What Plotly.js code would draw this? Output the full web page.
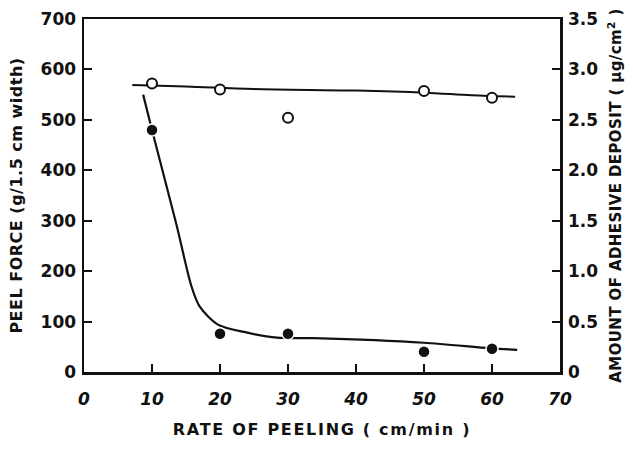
<!DOCTYPE html>
<html><head><meta charset="utf-8">
<script src="https://cdn.plot.ly/plotly-3.0.1.min.js"></script>
<style>
html,body{margin:0;padding:0;background:#fff}#c{width:633px;height:450px}
#c .xtitle{letter-spacing:1.7px}
#c .ytitle{letter-spacing:0.5px}
#c .y2title{letter-spacing:0.4px}
</style>
</head><body><div id="c"></div>
<script>
// Measured data
const rate = [10, 20, 30, 50, 60];
const peelForce = [572, 560, 504, 557, 544];          // open circles, left axis (g/1.5 cm width)
const deposit = [2.40, 0.38, 0.38, 0.20, 0.23];       // filled circles, right axis (µg/cm²)
// Hand-drawn fitted curves
const peelCurveX = [7.1, 15, 25, 40, 50, 57, 63.4];
const peelCurveY = [569, 566, 561, 558, 554, 549, 546];
const depCurveX = [8.7, 10, 13.6, 15.8, 17, 19.7, 24, 28.4, 33.7, 50, 59.7, 63.7];
const depCurveY = [2.75, 2.40, 1.46, 0.85, 0.65, 0.47, 0.39, 0.34, 0.335, 0.29, 0.235, 0.22];
const leftTicks = [0, 100, 200, 300, 400, 500, 600, 700];
const rightTicks = [0, 0.5, 1.0, 1.5, 2.0, 2.5, 3.0, 3.5];
const rightTickText = ["0", "0.5", "1.0", "1.5", "2.0", "2.5", "3.0", "3.5"];
const xTicks = [0, 10, 20, 30, 40, 50, 60, 70];

const F = "DejaVu Sans, Liberation Sans, sans-serif";
const traces = [
  {x: peelCurveX, y: peelCurveY, mode: "lines", line: {color: "#111", width: 2, shape: "spline", smoothing: 1}, yaxis: "y", hoverinfo: "skip"},
  {x: depCurveX, y: depCurveY, mode: "lines", line: {color: "#111", width: 2.2, shape: "spline", smoothing: 0.8}, yaxis: "y2", hoverinfo: "skip"},
  {x: rate, y: peelForce, mode: "markers", yaxis: "y",
   marker: {symbol: "circle", size: 10, color: "#fff", line: {color: "#111", width: 2}}},
  {x: rate, y: deposit, mode: "markers", yaxis: "y2",
   marker: {symbol: "circle", size: 12, color: "#111", line: {color: "#fff", width: 1.5}}}
];
const layout = {
  width: 633, height: 450, showlegend: false,
  paper_bgcolor: "#fff", plot_bgcolor: "#fff",
  margin: {l: 84, r: 73, t: 19, b: 78},
  font: {family: F, color: "#111"},
  xaxis: {range: [0, 70], tickvals: xTicks, ticks: "inside", ticklen: 8, tickwidth: 2, tickcolor: "#111",
    showline: true, linewidth: 2.5, linecolor: "#111", mirror: true, showgrid: false, zeroline: false,
    ticklabelstandoff: 10,
    tickfont: {family: F, size: 17, color: "#111", weight: "bold", style: "italic"},
    title: {text: "RATE OF PEELING ( cm/min )", standoff: 16, font: {family: F, size: 16, color: "#111", weight: "bold"}}},
  yaxis: {range: [0, 700], tickvals: leftTicks, ticks: "inside", ticklen: 8, tickwidth: 2, tickcolor: "#111",
    showline: true, linewidth: 2.5, linecolor: "#111", showgrid: false, zeroline: false,
    ticklabelstandoff: 2,
    tickfont: {family: F, size: 17, color: "#111", weight: "bold"},
    title: {text: "PEEL FORCE (g/1.5 cm width)", standoff: 14, font: {family: F, size: 16, color: "#111", weight: "bold"}}},
  yaxis2: {range: [0, 3.5], overlaying: "y", side: "right", tickvals: rightTicks, ticktext: rightTickText,
    ticks: "inside", ticklen: 8, tickwidth: 2, tickcolor: "#111",
    showline: true, linewidth: 2.5, linecolor: "#111", showgrid: false, zeroline: false,
    ticklabelstandoff: 2,
    tickfont: {family: F, size: 17, color: "#111", weight: "bold"},
    title: {text: "AMOUNT OF ADHESIVE DEPOSIT ( µg/cm<sup>2</sup> )", standoff: 14, font: {family: F, size: 15, color: "#111", weight: "bold"}}}
};
Plotly.newPlot("c", traces, layout, {staticPlot: true});
</script></body></html>
